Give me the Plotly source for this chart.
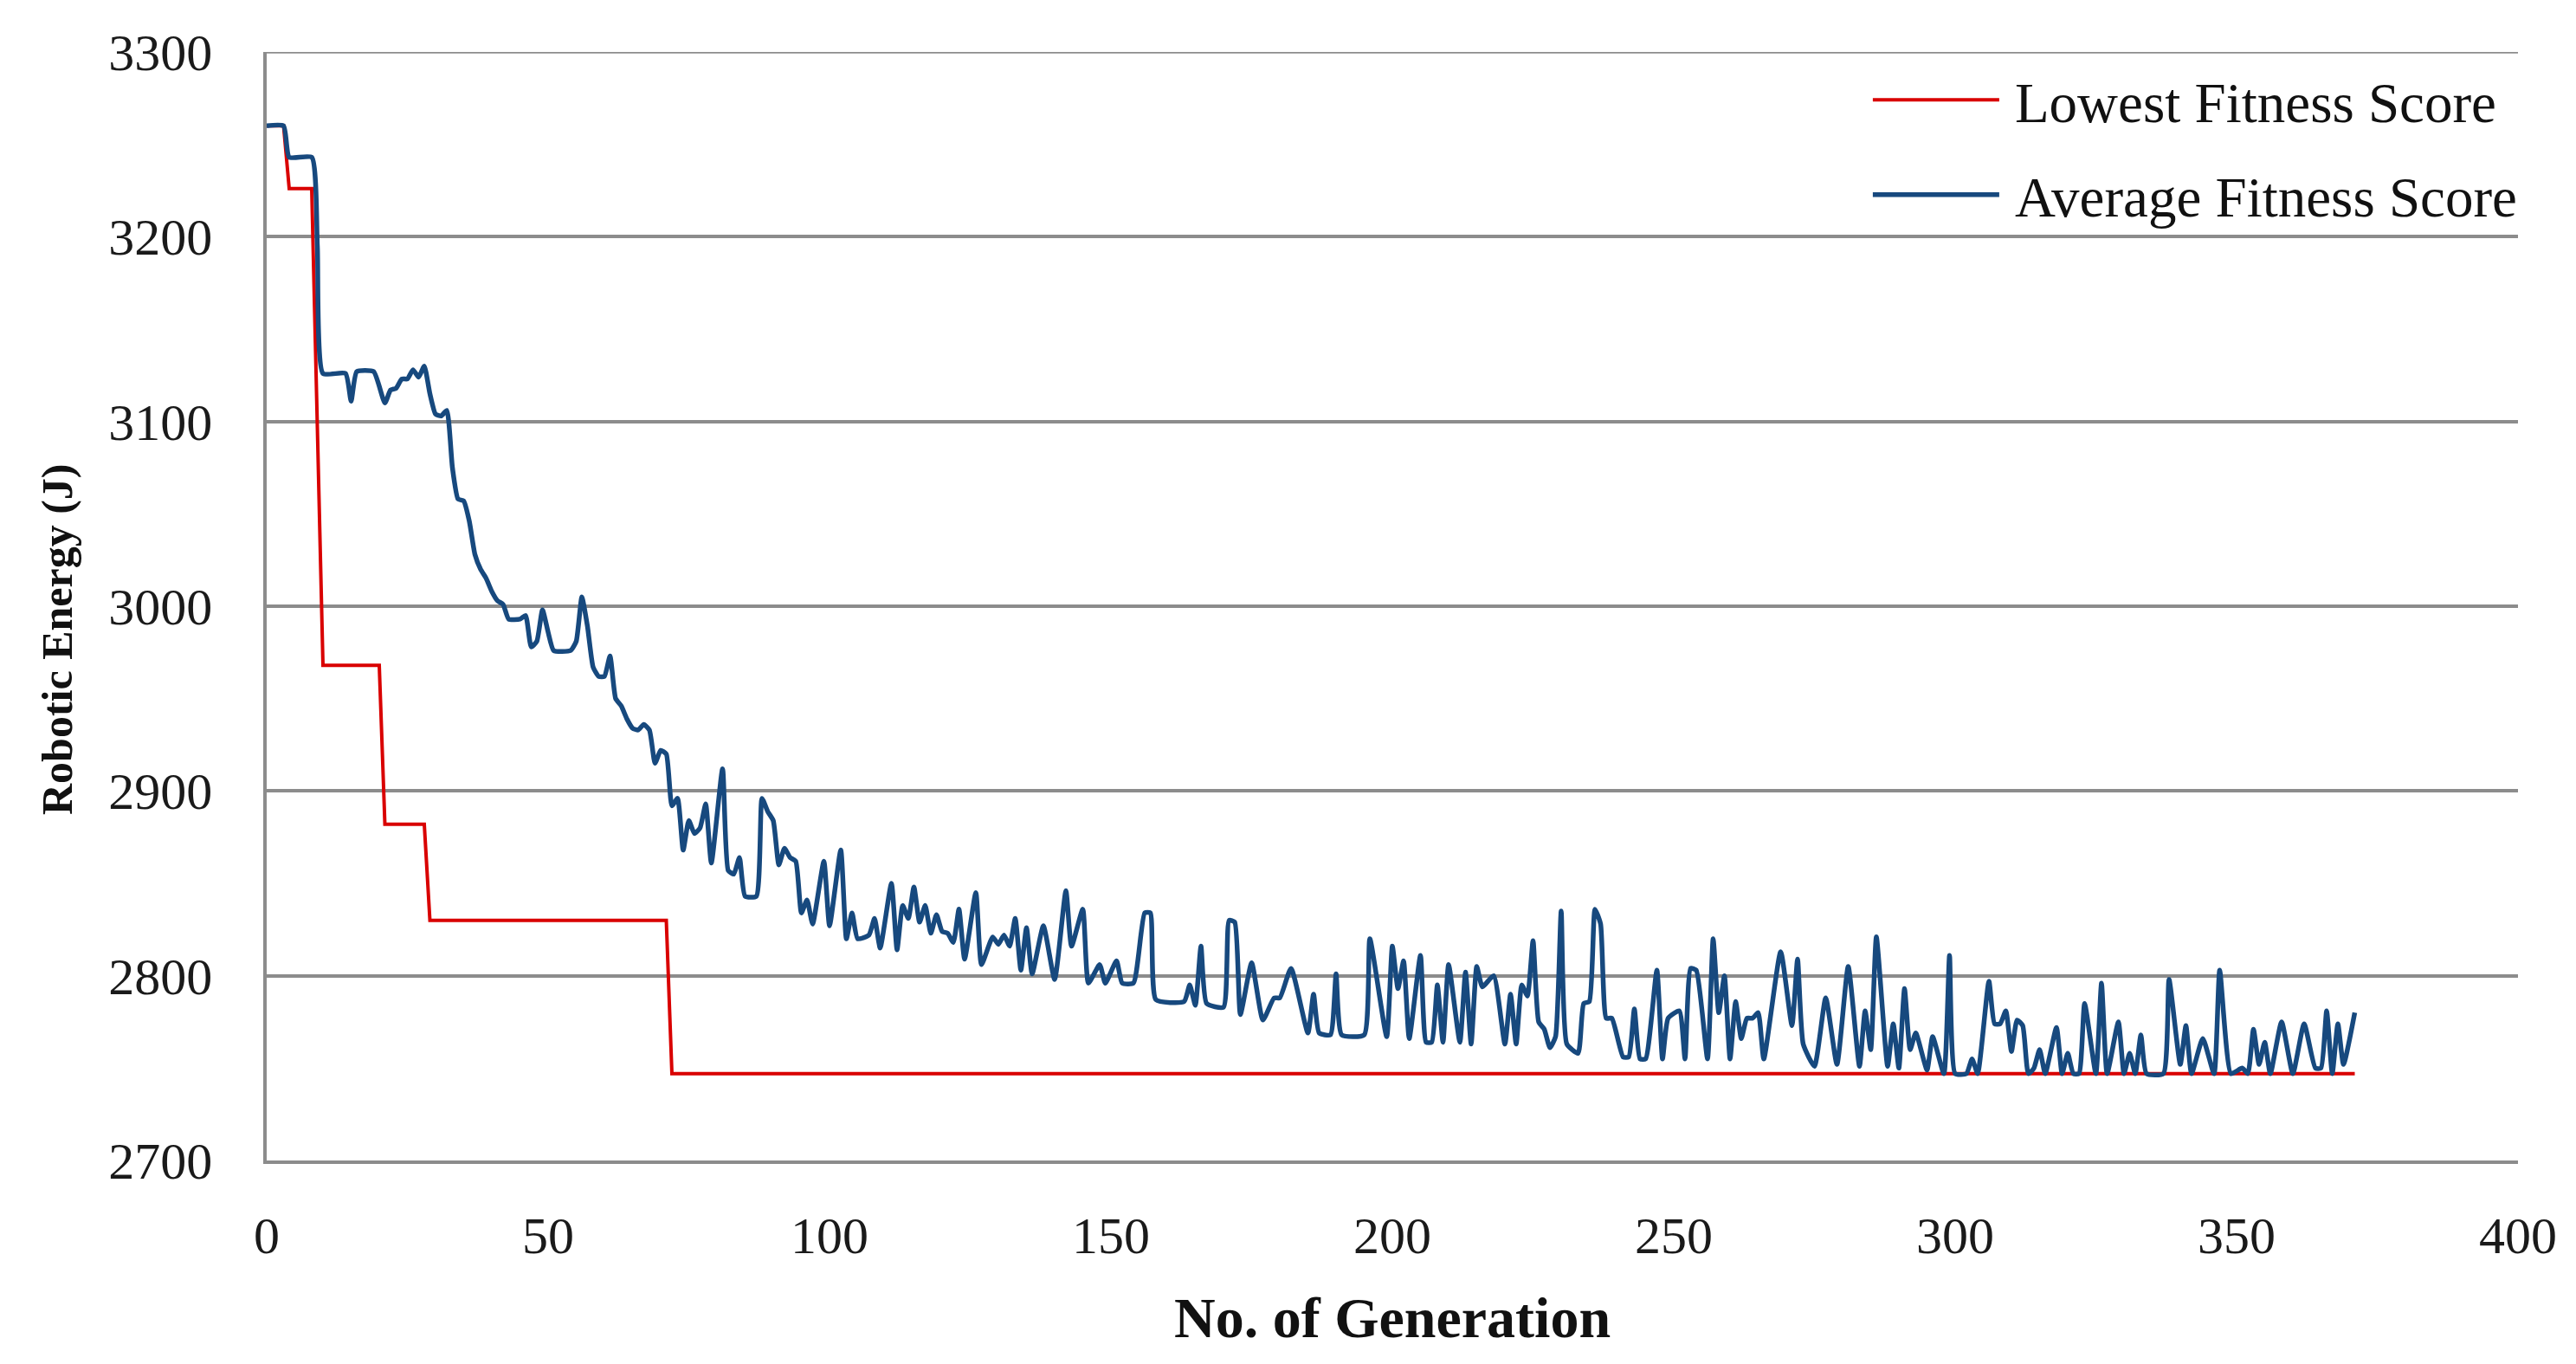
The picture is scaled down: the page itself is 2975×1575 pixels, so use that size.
import plotly.graph_objects as go

# Lowest fitness score (step line) - breakpoints
lowest_gen = [0, 3, 4, 8, 9, 10, 20, 21, 28, 29, 71, 72, 371]
lowest_val = [3260, 3260, 3226, 3226, 3097, 2968, 2968, 2882, 2882, 2830, 2830, 2747, 2747]

# Average fitness score
avg_gen = [0, 3, 4, 8, 9, 10, 14, 15, 16, 19, 21, 22, 23, 24, 25, 26, 27, 28, 29, 30,
           31, 32, 33, 34, 35, 36, 37, 38, 39, 40, 41, 42, 43, 45, 46, 47, 48, 49, 50, 51,
           54, 55, 56, 57, 58, 59, 60, 61, 62, 63, 64, 65, 66, 67, 68, 69, 70, 71, 72, 73,
           74, 75, 76, 77, 78, 79, 81, 82, 83, 84, 85, 87, 88, 89, 90, 91, 92, 93, 94, 95,
           96, 97, 99, 100, 102, 103, 104, 105, 107, 108, 109, 111, 112, 113, 114, 115, 116, 117, 118, 119,
           120, 121, 122, 123, 124, 126, 127, 129, 130, 131, 132, 133, 134, 135, 136, 138, 140, 142, 143, 145,
           146, 148, 149, 151, 152, 154, 156, 157, 158, 163, 164, 165, 166, 167, 170, 171, 172, 173, 175, 177,
           179, 180, 182, 185, 186, 187, 189, 190, 191, 195, 196, 199, 200, 201, 202, 203, 205, 206, 207, 208,
           209, 210, 212, 213, 214, 215, 216, 218, 220, 221, 222, 223, 224, 225, 226, 227, 228, 229, 230, 231,
           233, 234, 235, 236, 237, 238, 239, 241, 242, 243, 244, 245, 247, 248, 249, 251, 252, 253, 254, 256,
           257, 258, 259, 260, 261, 262, 263, 264, 265, 266, 269, 271, 272, 273, 275, 277, 279, 281, 283, 284,
           285, 286, 288, 289, 290, 291, 292, 293, 295, 296, 298, 299, 300, 302, 303, 304, 306, 307, 308, 309,
           310, 311, 312, 313, 314, 315, 316, 318, 319, 320, 321, 322, 323, 325, 326, 327, 329, 330, 331, 332,
           333, 334, 337, 338, 340, 341, 342, 344, 346, 347, 349, 351, 352, 353, 354, 355, 356, 358, 360, 362,
           364, 365, 366, 367, 368, 369, 371]
avg_val = [3260, 3260, 3243, 3243, 3195, 3126, 3126, 3111, 3127, 3127, 3110, 3117, 3118, 3123, 3123, 3128, 3124, 3130, 3115, 3104,
           3103, 3106, 3075, 3058, 3057, 3046, 3028, 3020, 3015, 3008, 3003, 3001, 2993, 2993, 2995, 2978, 2981, 2998, 2986, 2976,
           2976, 2981, 3005, 2989, 2967, 2962, 2962, 2973, 2950, 2946, 2939, 2934, 2933, 2936, 2933, 2915, 2922, 2920, 2892, 2896,
           2868, 2884, 2877, 2880, 2893, 2861, 2912, 2857, 2855, 2864, 2843, 2843, 2896, 2889, 2884, 2860, 2869, 2864, 2862, 2834,
           2841, 2828, 2862, 2827, 2868, 2820, 2834, 2820, 2822, 2831, 2815, 2850, 2814, 2838, 2831, 2848, 2829, 2838, 2823, 2833,
           2824, 2823, 2818, 2836, 2809, 2845, 2806, 2821, 2817, 2822, 2816, 2831, 2803, 2826, 2801, 2827, 2798, 2846, 2816, 2836,
           2796, 2806, 2796, 2808, 2796, 2796, 2834, 2834, 2787, 2786, 2795, 2784, 2816, 2785, 2783, 2830, 2829, 2779, 2807, 2776,
           2788, 2788, 2804, 2769, 2790, 2769, 2768, 2801, 2768, 2768, 2820, 2767, 2816, 2793, 2808, 2766, 2811, 2764, 2764, 2795,
           2764, 2806, 2764, 2802, 2763, 2805, 2794, 2800, 2763, 2790, 2763, 2795, 2789, 2819, 2775, 2771, 2761, 2767, 2835, 2763,
           2758, 2785, 2786, 2836, 2828, 2777, 2777, 2756, 2756, 2782, 2755, 2755, 2803, 2755, 2777, 2781, 2755, 2804, 2803, 2755,
           2820, 2780, 2800, 2755, 2786, 2766, 2777, 2777, 2780, 2755, 2813, 2773, 2809, 2763, 2751, 2788, 2752, 2805, 2751, 2781,
           2760, 2821, 2751, 2774, 2750, 2793, 2760, 2769, 2749, 2767, 2747, 2811, 2747, 2747, 2755, 2747, 2797, 2774, 2774, 2781,
           2759, 2776, 2773, 2747, 2750, 2760, 2747, 2772, 2747, 2758, 2747, 2747, 2785, 2747, 2796, 2747, 2775, 2747, 2758, 2747,
           2768, 2747, 2747, 2798, 2752, 2773, 2747, 2766, 2747, 2803, 2747, 2750, 2747, 2771, 2752, 2764, 2747, 2775, 2747, 2774,
           2750, 2750, 2781, 2747, 2774, 2752, 2780]

x_ticks = [0, 50, 100, 150, 200, 250, 300, 350, 400]
y_ticks = [2700, 2800, 2900, 3000, 3100, 3200, 3300]

FONT = "Liberation Serif"
GRID = "#8C8C8C"

fig = go.Figure()
fig.add_trace(go.Scatter(
    x=lowest_gen, y=lowest_val, mode="lines", name="\u2009Lowest Fitness Score",
    line=dict(color="#D90000", width=4), legendgroup="a"))
fig.add_trace(go.Scatter(
    x=avg_gen, y=avg_val, mode="lines", name="\u2009Average Fitness Score",
    line=dict(color="#17497E", width=5.5, shape="spline", smoothing=0.5), legendgroup="b"))

fig.update_layout(
    width=2959, height=1559,
    margin=dict(l=300, r=59, t=52, b=227),
    paper_bgcolor="white", plot_bgcolor="white",
    font=dict(family=FONT, color="#1a1a1a"),
    showlegend=True,
    legend=dict(x=0.7115, xanchor="left", y=0.995, yanchor="top",
                font=dict(family=FONT, size=65, color="#111"),
                itemwidth=146, tracegroupgap=22, traceorder="grouped",
                bgcolor="rgba(0,0,0,0)"),
    xaxis=dict(range=[0, 400], tickvals=x_ticks, showgrid=False, zeroline=False,
               showline=True, linecolor=GRID, linewidth=3.5,
               tickfont=dict(family=FONT, size=60, color="#1a1a1a"),
               ticks="", ticklabelstandoff=31),
    yaxis=dict(range=[2700, 3300], tickvals=y_ticks, showgrid=True, gridcolor=GRID,
               gridwidth=3.5, zeroline=False, showline=True, linecolor=GRID, linewidth=3.5,
               tickfont=dict(family=FONT, size=60, color="#1a1a1a"),
               ticks="", ticklabelstandoff=47),
    shapes=[dict(type="line", xref="x", yref="y", x0=x_ticks[0], x1=x_ticks[-1],
                 y0=y_ticks[-1], y1=y_ticks[-1], layer="below",
                 line=dict(color=GRID, width=3.5))],
    annotations=[
        dict(text="<b>No. of Generation</b>", xref="paper", yref="paper", x=0.5, y=0,
             yshift=-181, xanchor="center", yanchor="middle", showarrow=False,
             font=dict(family=FONT, size=66, color="#111")),
        dict(text="<b>Robotic Energy (J)</b>", xref="paper", yref="paper", x=0, y=0.4703,
             xshift=-242, xanchor="center", yanchor="middle", textangle=-90, showarrow=False,
             font=dict(family=FONT, size=50, color="#111")),
    ],
)

fig.write_html("out.html")
